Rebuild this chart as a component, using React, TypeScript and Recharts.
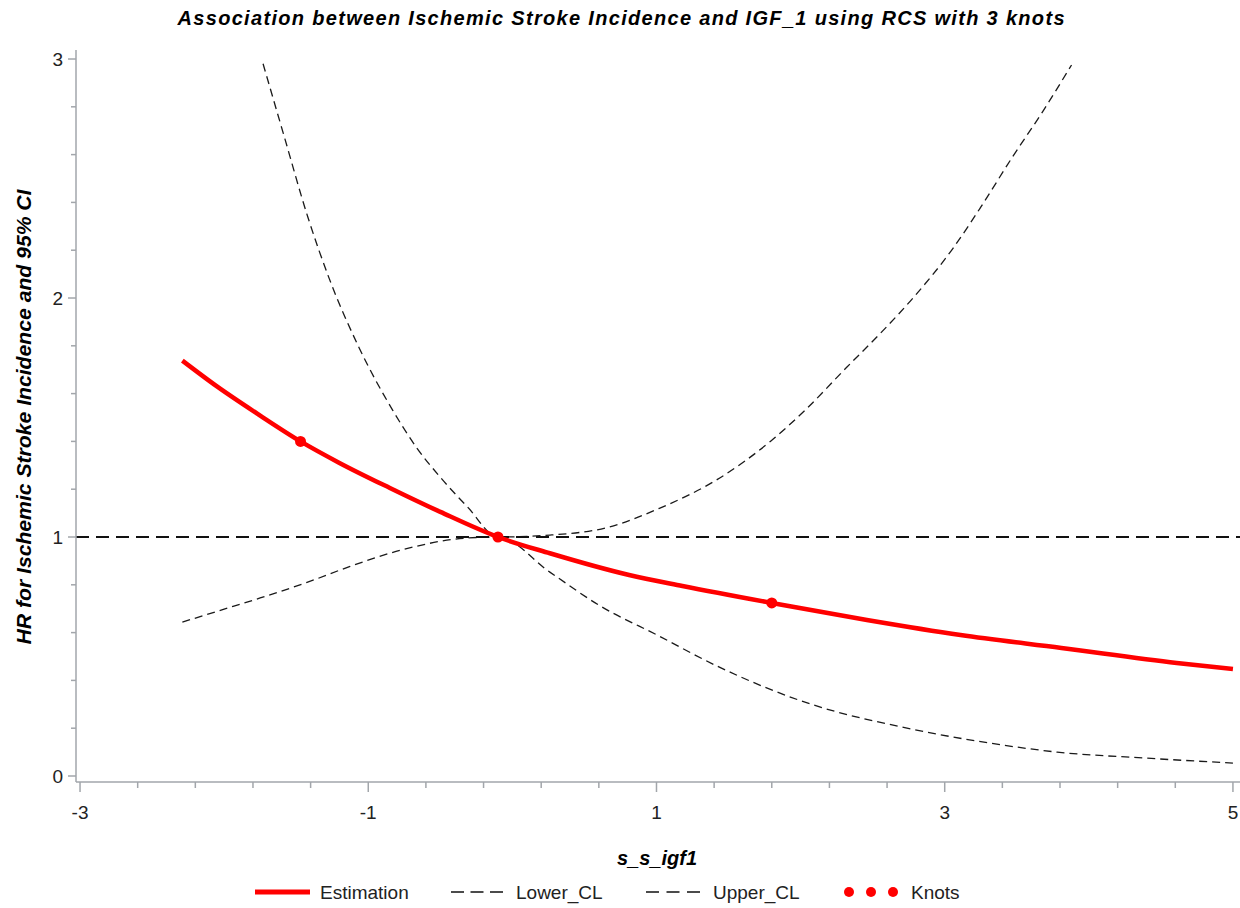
import React from "react";
import {
  ComposedChart,
  Line,
  Scatter,
  XAxis,
  YAxis,
  ReferenceLine,
} from "recharts";

// spline estimate (HR)
const estX = [-2.29, -2.05, -1.75, -1.47, -1.2, -0.85, -0.5, -0.1, 0.26, 0.81, 1.18, 1.8, 2.46, 3.11, 3.81, 4.61, 5.0];
const estY = [1.738, 1.63, 1.508, 1.4, 1.31, 1.205, 1.105, 1.0, 0.932, 0.841, 0.795, 0.724, 0.653, 0.59, 0.536, 0.473, 0.448];

const upperX = [-1.73, -1.59, -1.42, -1.27, -1.07, -0.83, -0.66, -0.5, -0.31, -0.1, 0.26, 0.66, 1.02, 1.42, 1.79, 2.03, 2.32, 2.55, 2.78, 3.06, 3.25, 3.47, 3.68, 3.88];
const upperY = [2.98, 2.69, 2.34, 2.08, 1.8, 1.53, 1.37, 1.25, 1.125, 1.0, 1.008, 1.04, 1.12, 1.24, 1.4, 1.53, 1.71, 1.85, 2.0, 2.21, 2.38, 2.59, 2.78, 2.975];

const lowerX = [-2.29, -2.0, -1.75, -1.425, -1.126, -0.78, -0.31, -0.1, 0.26, 0.6, 1.02, 1.42, 2.09, 2.7, 3.31, 3.78, 4.39, 5.0];
const lowerY = [0.644, 0.698, 0.745, 0.81, 0.877, 0.944, 0.996, 1.0, 0.853, 0.715, 0.585, 0.46, 0.297, 0.205, 0.138, 0.1, 0.075, 0.054];

const knotX = [-1.47, -0.1, 1.8];
const knotY = [1.4, 1.0, 0.724];

const xTicks = [-3, -2.6, -2.2, -1.8, -1.4, -1, -0.6, -0.2, 0.2, 0.6, 1, 1.4, 1.8, 2.2, 2.6, 3, 3.4, 3.8, 4.2, 4.6, 5];
const xTickLabels = [-3, -1, 1, 3, 5];
const yTicks = [0, 0.2, 0.4, 0.6, 0.8, 1, 1.2, 1.4, 1.6, 1.8, 2, 2.2, 2.4, 2.6, 2.8, 3];
const yTickLabels = [0, 1, 2, 3];

const toPoints = (xs: number[], ys: number[]) => xs.map((x, i) => ({ x, y: ys[i] }));

const estimation = toPoints(estX, estY);
const upper = toPoints(upperX, upperY);
const lower = toPoints(lowerX, lowerY);
const knots = toPoints(knotX, knotY);

const AXIS = "#a2a6ab";
const INK = "#222";
const FONT = "'Liberation Sans', Arial, sans-serif";

function XTick(props: any) {
  const { x, y, payload } = props;
  const major = xTickLabels.includes(payload.value);
  return (
    <g>
      <line x1={x} x2={x} y1={y} y2={y + (major ? 10 : 6)} stroke={AXIS} strokeWidth={1.5} />
      {major && (
        <text x={x} y={y + 37} textAnchor="middle" fontSize={19} fontFamily={FONT} fill={INK}>
          {payload.value}
        </text>
      )}
    </g>
  );
}

function YTick(props: any) {
  const { x, y, payload } = props;
  const major = yTickLabels.includes(payload.value);
  return (
    <g>
      <line x1={x} x2={x - (major ? 8 : 5)} y1={y} y2={y} stroke={AXIS} strokeWidth={1.5} />
      {major && (
        <text x={x - 13} y={y + 7} textAnchor="end" fontSize={19} fontFamily={FONT} fill={INK}>
          {payload.value}
        </text>
      )}
    </g>
  );
}

export default function App() {
  return (
    <div style={{ position: "absolute", left: 0, top: 0, width: 1240, height: 908, background: "#fff" }}>
      <ComposedChart width={1240} height={908} margin={{ top: 50, right: 0, bottom: 86, left: 0 }}>
        <XAxis
          type="number"
          dataKey="x"
          domain={[-3.028, 5.049]}
          ticks={xTicks}
          interval={0}
          height={40}
          tickSize={0}
          tickMargin={0}
          tickLine={false}
          tick={<XTick />}
          axisLine={{ stroke: AXIS, strokeWidth: 1.5 }}
          allowDataOverflow
        />
        <YAxis
          type="number"
          dataKey="y"
          domain={[-0.0251, 3.0377]}
          ticks={yTicks}
          interval={0}
          width={76}
          tickSize={0}
          tickMargin={0}
          tickLine={false}
          tick={<YTick />}
          axisLine={{ stroke: AXIS, strokeWidth: 1.5 }}
          allowDataOverflow
        />
        <Line
          data={lower}
          dataKey="y"
          type="monotone"
          stroke="#1a1a1a"
          strokeWidth={1.3}
          strokeDasharray="8 5"
          dot={false}
          isAnimationActive={false}
        />
        <Line
          data={upper}
          dataKey="y"
          type="monotone"
          stroke="#1a1a1a"
          strokeWidth={1.3}
          strokeDasharray="8 5"
          dot={false}
          isAnimationActive={false}
        />
        <ReferenceLine y={1} stroke="#111" strokeWidth={1.8} strokeDasharray="13 7" />
        <Line
          data={estimation}
          dataKey="y"
          type="monotone"
          stroke="#ff0000"
          strokeWidth={4.5}
          dot={false}
          isAnimationActive={false}
        />
        <Scatter
          data={knots}
          dataKey="y"
          fill="#ff0000"
          isAnimationActive={false}
          shape={(p: any) => <circle cx={p.cx} cy={p.cy} r={5.5} fill="#ff0000" />}
        />
      </ComposedChart>
      <svg
        width={1240}
        height={908}
        style={{ position: "absolute", left: 0, top: 0, pointerEvents: "none" }}
        fontFamily={FONT}
      >
        <text
          x={621}
          y={25}
          textAnchor="middle"
          fontSize={20}
          fontWeight="bold"
          fontStyle="italic"
          fill="#000"
          textLength={887}
          lengthAdjust="spacing"
        >
          Association between Ischemic Stroke Incidence and IGF_1 using RCS with 3 knots
        </text>
        <text x={657} y={865} textAnchor="middle" fontSize={20} fontWeight="bold" fontStyle="italic" fill="#000">
          s_s_igf1
        </text>
        <text
          transform="translate(31,417) rotate(-90)"
          textAnchor="middle"
          fontSize={20}
          fontWeight="bold"
          fontStyle="italic"
          fill="#000"
          textLength={455}
          lengthAdjust="spacingAndGlyphs"
        >
          HR for Ischemic Stroke Incidence and 95% CI
        </text>
        {/* legend */}
        <line x1={255} x2={310} y1={892} y2={892} stroke="#ff0000" strokeWidth={5} />
        <text x={320} y={899} fontSize={19} fill={INK}>Estimation</text>
        <line x1={451} x2={503} y1={892} y2={892} stroke="#111" strokeWidth={1.5} strokeDasharray="13 6.5" />
        <text x={516} y={899} fontSize={19} fill={INK}>Lower_CL</text>
        <line x1={646} x2={700} y1={892} y2={892} stroke="#111" strokeWidth={1.5} strokeDasharray="13 7.5" />
        <text x={713} y={899} fontSize={19} fill={INK}>Upper_CL</text>
        <circle cx={849} cy={892} r={5} fill="#ff0000" />
        <circle cx={871} cy={892} r={5} fill="#ff0000" />
        <circle cx={893} cy={892} r={5} fill="#ff0000" />
        <text x={911} y={899} fontSize={19} fill={INK}>Knots</text>
      </svg>
    </div>
  );
}
